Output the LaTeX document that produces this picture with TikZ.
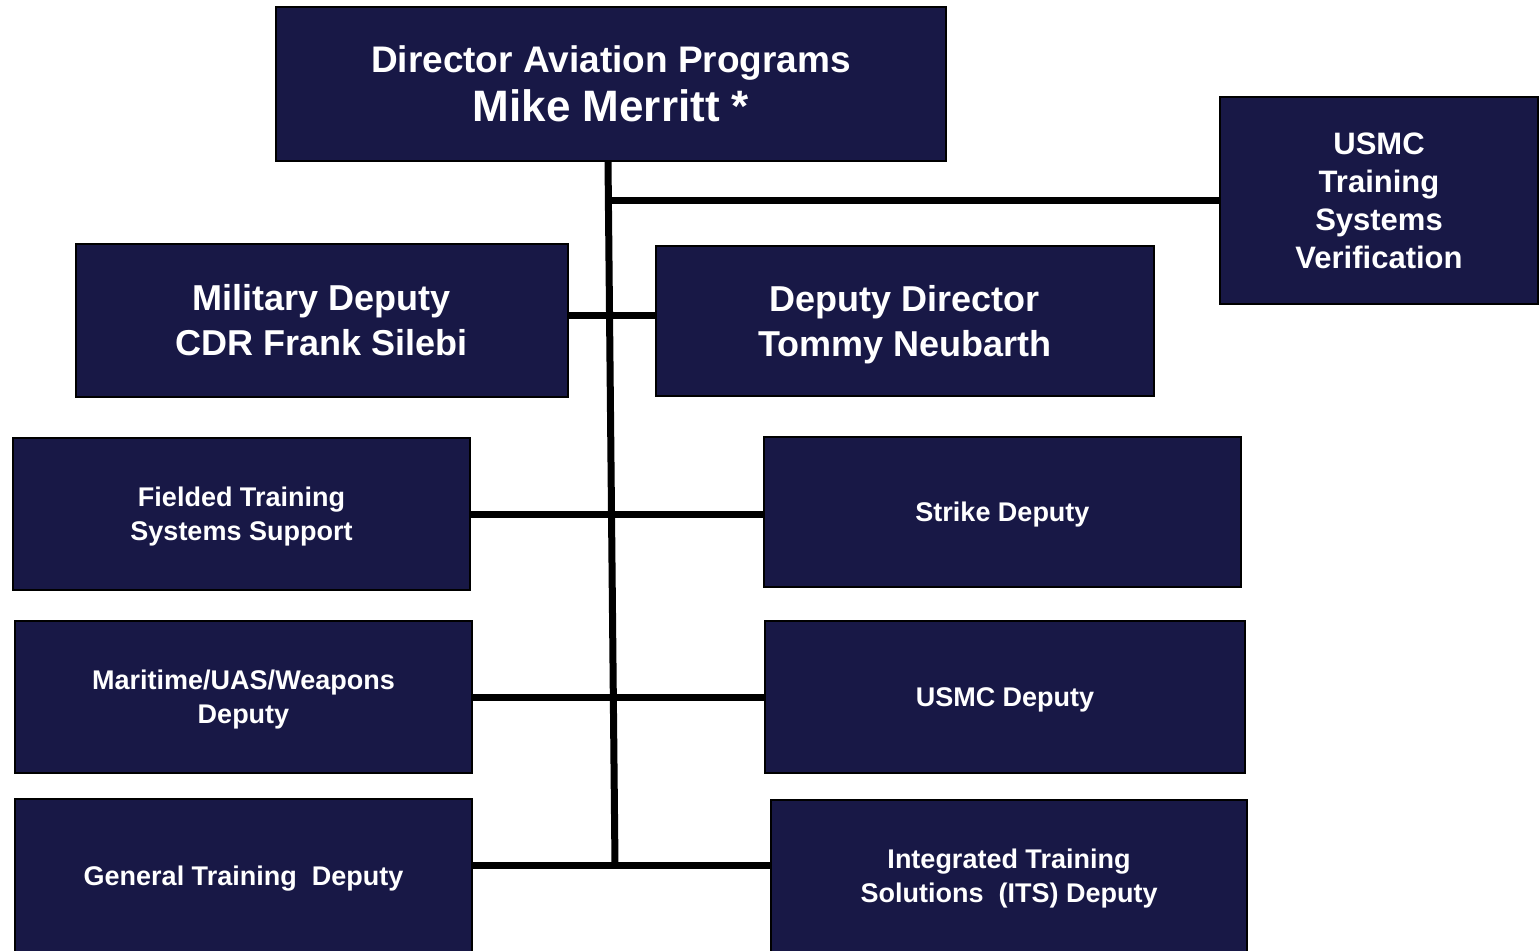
\documentclass[tikz,border=0pt]{standalone}
\usepackage{fontspec}
\setmainfont{Liberation Sans}
\definecolor{navybox}{RGB}{24,24,70}

\tikzset{every picture/.style={line width=0.75pt}}
\tikzset{
  orgbox/.style={draw=black, line width=1.2pt, fill=navybox, text=white, align=center, inner sep=0pt},
  txtsize/.style 2 args={font=\bfseries\fontsize{#1}{#2}\selectfont},
  linkline/.style={draw=black, line width=5.25pt}
}

\begin{document}
\begin{tikzpicture}[x=0.75pt,y=0.75pt,yscale=-1,xscale=1]
    \useasboundingbox (0,0) rectangle (1539,950);

    % Director
    \node [orgbox, txtsize={33}{37}, minimum width=502.5pt, minimum height=115.5pt] (director) at (611,84)
      {{\fontsize{27.75}{37}\selectfont Director Aviation Programs}\\Mike Merritt *};
    % USMC verification
    \node [orgbox, txtsize={23.25}{28.5}, minimum width=238.5pt, minimum height=155.25pt] (usmctsv) at (1379,200.5)
      {USMC\\Training\\Systems\\Verification};
    % Deputies
    \node [orgbox, txtsize={27}{33.75}, minimum width=369pt, minimum height=114.75pt] (milldep) at (322,320.5)
      {Military Deputy\\CDR Frank Silebi};
    \node [orgbox, txtsize={27}{33.75}, minimum width=373.5pt, minimum height=112.5pt, text depth=0pt] (depdir) at (905,321)
      {Deputy Director\\Tommy Neubarth};
    % Left column
    \node [orgbox, txtsize={20.25}{25.5}, minimum width=342.75pt, minimum height=114pt, text depth=0pt] (fielded) at (241.5,514)
      {Fielded Training\\Systems Support};
    \node [orgbox, txtsize={20.25}{25.5}, minimum width=342.75pt, minimum height=114pt, text depth=0pt] (maritime) at (243.5,697)
      {Maritime/UAS/Weapons\\Deputy};
    \node [orgbox, txtsize={20.25}{25.5}, minimum width=342.75pt, minimum height=114.75pt, text depth=0pt] (general) at (243.5,875.5)
      {General Training~ Deputy};
    % Right column
    \node [orgbox, txtsize={20.25}{25.5}, minimum width=357.75pt, minimum height=112.5pt, text depth=0pt] (strike) at (1002.5,512)
      {Strike Deputy};
    \node [orgbox, txtsize={20.25}{25.5}, minimum width=360pt, minimum height=114pt, text depth=0pt] (usmcdep) at (1005,697)
      {USMC Deputy};
    \node [orgbox, txtsize={20.25}{25.5}, minimum width=357pt, minimum height=114pt, text depth=0pt] (its) at (1009,876)
      {Integrated Training\\Solutions~ (ITS) Deputy};

    % Trunk
    \coordinate (trunktop) at (608,161);
    \coordinate (trunkend) at (615,865);
    \draw [linkline] (trunktop) -- (trunkend);

    % Branches
    \draw [linkline] (usmctsv.west) -- (usmctsv.west -| trunktop);
    \draw [linkline] ([yshift=-4pt]milldep.east) -- ([yshift=-4pt]milldep.east -| depdir.west);
    \draw [linkline] (fielded.east) -- (fielded.east -| strike.west);
    \draw [linkline] (maritime.east) -- (maritime.east -| usmcdep.west);
    \draw [linkline] ([yshift=-7.5pt]general.east) -- ([yshift=-7.5pt]general.east -| its.west);

\end{tikzpicture}
\end{document}
